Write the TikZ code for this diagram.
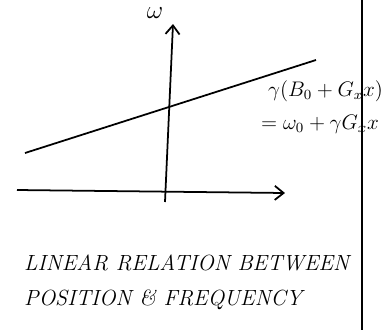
\documentclass[tikz,border=0pt]{standalone}
\usepackage{amsmath,amssymb}
\usepackage{tikz}
\usetikzlibrary{arrows.meta,positioning}

\begin{document}
\begin{tikzpicture}[
    x=0.02cm, y=-0.02cm,
    font=\large,
    axis/.style={line width=1pt, -{Straight Barb[length=5pt,width=8pt]}},
    curve/.style={line width=1pt},
    note/.style={font=\fontsize{12.5}{15}\selectfont\itshape, anchor=west}
]
    \useasboundingbox (0,0) rectangle (387,336);

    % axes
    \coordinate (w_bot) at (165,202);
    \coordinate (w_top) at (173,24);
    \coordinate (x_left) at (17,190);
    \coordinate (x_right) at (285,193);
    \draw[axis] (w_bot) -- (w_top);
    \draw[axis] (x_left) -- (x_right);
    \node (w_label) at (155,13) {\Large$\omega$};

    % the linear relation
    \coordinate (line_a) at (25,153);
    \coordinate (line_b) at (316,60);
    \draw[curve] (line_a) -- (line_b);
    \node[anchor=west] (field) at (262,91) {$\gamma(B_0+G_x x)$};
    \node[anchor=west] (freq) at (255,124) {$=\omega_0+\gamma G_x x$};

    % page edge
    \coordinate (edge_top) at (362,0);
    \coordinate (edge_bot) at (362,330);
    \draw[line width=0.8pt] (edge_top) -- (edge_bot);

    \node[note] (line1) at (18,263) {LINEAR RELATION BETWEEN};
    \node[note] (line2) at (18,300) {POSITION \& FREQUENCY};
\end{tikzpicture}
\end{document}
